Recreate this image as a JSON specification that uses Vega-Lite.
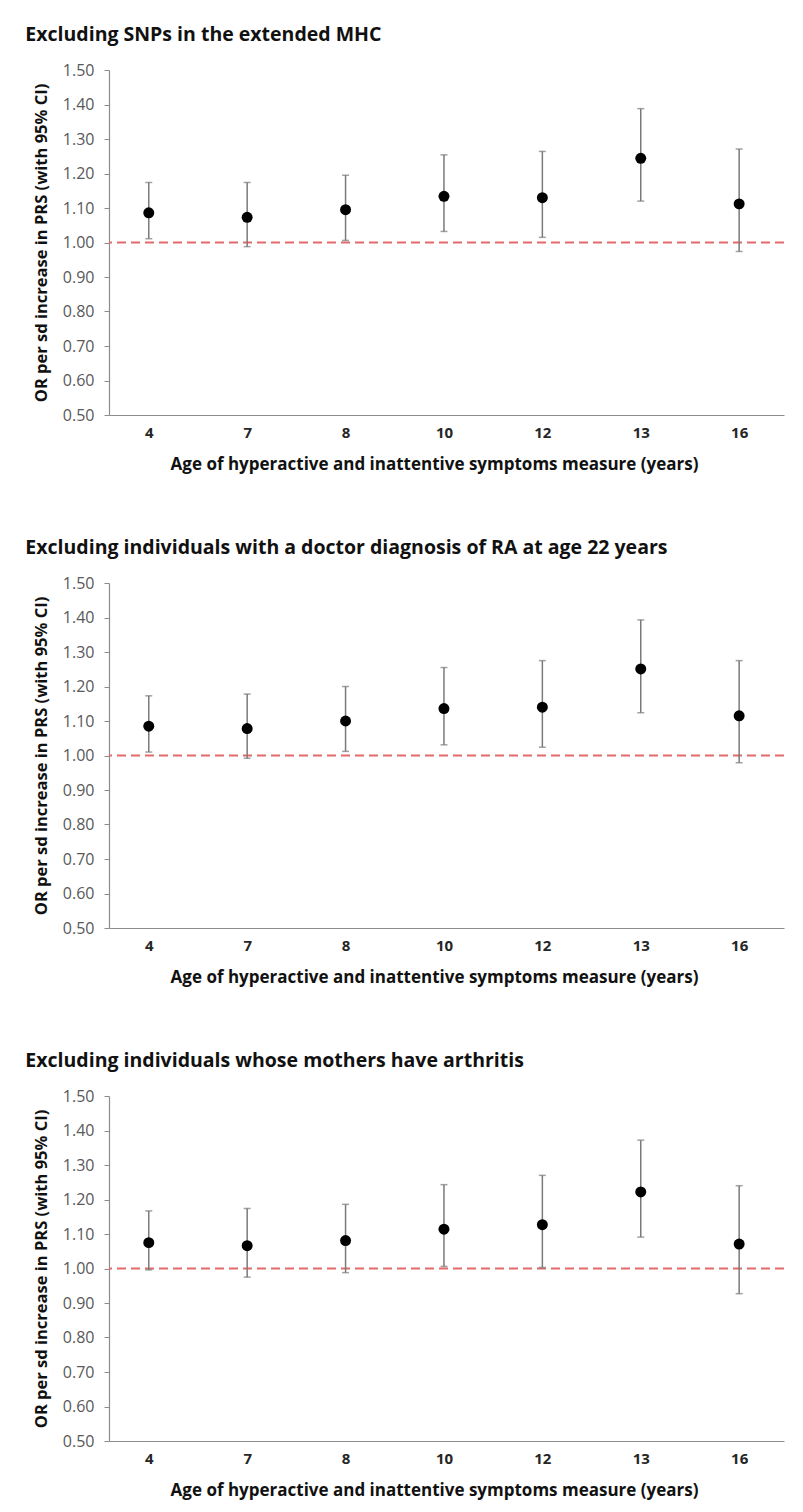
{
  "$schema": "https://vega.github.io/schema/vega-lite/v6.json",
  "background": "white",
  "padding": {"left": 25, "top": 24, "right": 16, "bottom": 4},
  "spacing": 65,
  "datasets": {
    "p1": [
      {"age": 4, "or": 1.086, "lo": 1.011, "hi": 1.174},
      {"age": 7, "or": 1.073, "lo": 0.988, "hi": 1.174},
      {"age": 8, "or": 1.095, "lo": 1.006, "hi": 1.195},
      {"age": 10, "or": 1.134, "lo": 1.032, "hi": 1.254},
      {"age": 12, "or": 1.130, "lo": 1.015, "hi": 1.264},
      {"age": 13, "or": 1.244, "lo": 1.120, "hi": 1.388},
      {"age": 16, "or": 1.112, "lo": 0.974, "hi": 1.271}
    ],
    "p2": [
      {"age": 4, "or": 1.085, "lo": 1.010, "hi": 1.173},
      {"age": 7, "or": 1.078, "lo": 0.992, "hi": 1.178},
      {"age": 8, "or": 1.100, "lo": 1.012, "hi": 1.200},
      {"age": 10, "or": 1.136, "lo": 1.031, "hi": 1.255},
      {"age": 12, "or": 1.140, "lo": 1.024, "hi": 1.275},
      {"age": 13, "or": 1.251, "lo": 1.124, "hi": 1.393},
      {"age": 16, "or": 1.115, "lo": 0.979, "hi": 1.275}
    ],
    "p3": [
      {"age": 4, "or": 1.075, "lo": 0.996, "hi": 1.167},
      {"age": 7, "or": 1.066, "lo": 0.975, "hi": 1.174},
      {"age": 8, "or": 1.081, "lo": 0.988, "hi": 1.186},
      {"age": 10, "or": 1.114, "lo": 1.006, "hi": 1.243},
      {"age": 12, "or": 1.127, "lo": 1.003, "hi": 1.270},
      {"age": 13, "or": 1.222, "lo": 1.091, "hi": 1.372},
      {"age": 16, "or": 1.071, "lo": 0.927, "hi": 1.240}
    ],
    "ref": [{"ref": 1.0}]
  },
  "config": {
    "view": {"stroke": null},
    "font": "Open Sans",
    "axis": {"grid": false, "domainColor": "#8c8c8c", "tickColor": "#8c8c8c", "domainWidth": 1.2},
    "axisX": {"ticks": false, "labelAngle": 0, "labelFont": "Open Sans", "labelFontSize": 15, "labelFontWeight": "bold", "labelColor": "#262626", "labelPadding": 10, "titleFont": "Open Sans", "titleFontSize": 17, "titleFontWeight": "bold", "titleColor": "#111111", "titlePadding": 16, "titleX": 325},
    "axisY": {"tickSize": 5, "tickCount": 12, "labelOverlap": false, "labelFont": "Open Sans", "labelFontSize": 16, "labelColor": "#595959", "labelPadding": 10, "titleFont": "Open Sans", "titleFontSize": 16.5, "titleFontWeight": "bold", "titleColor": "#111111", "titlePadding": 13},
    "title": {"anchor": "start", "frame": "bounds", "font": "Open Sans", "fontSize": 19.5, "fontWeight": "bold", "color": "#111111", "offset": 17, "dx": -8}
  },
  "vconcat": [
    {
      "title": "Excluding SNPs in the extended MHC",
      "width": 675, "height": 345,
      "data": {"name": "p1"},
      "layer": [
        {"data": {"name": "ref"}, "mark": {"type": "rule", "color": "#e36a6a", "strokeDash": [9, 5], "strokeWidth": 2},
         "encoding": {"y": {"field": "ref", "type": "quantitative", "title": "OR per sd increase in PRS (with 95% CI)", "scale": {"domain": [0.5, 1.5], "nice": false, "zero": false}, "axis": {"values": [0.5, 0.6, 0.7, 0.8, 0.9, 1.0, 1.1, 1.2, 1.3, 1.4, 1.5], "format": ".2f", "tickCount": 12}}}},
        {"mark": {"type": "errorbar", "ticks": {"size": 7, "color": "#7a7a7a"}, "color": "#7a7a7a", "thickness": 1.5},
         "encoding": {"x": {"field": "age", "type": "ordinal", "title": "Age of hyperactive and inattentive symptoms measure (years)", "scale": {"type": "point", "padding": 0.43, "align": 0.47}},
                      "y": {"field": "lo", "type": "quantitative", "title": "OR per sd increase in PRS (with 95% CI)"}, "y2": {"field": "hi"}}},
        {"mark": {"type": "circle", "size": 120, "color": "#000000", "opacity": 1},
         "encoding": {"x": {"field": "age", "type": "ordinal", "title": "Age of hyperactive and inattentive symptoms measure (years)"},
                      "y": {"field": "or", "type": "quantitative", "title": "OR per sd increase in PRS (with 95% CI)"}}}
      ]
    },
    {
      "title": "Excluding individuals with a doctor diagnosis of RA at age 22 years",
      "width": 675, "height": 345,
      "data": {"name": "p2"},
      "layer": [
        {"data": {"name": "ref"}, "mark": {"type": "rule", "color": "#e36a6a", "strokeDash": [9, 5], "strokeWidth": 2},
         "encoding": {"y": {"field": "ref", "type": "quantitative", "title": "OR per sd increase in PRS (with 95% CI)", "scale": {"domain": [0.5, 1.5], "nice": false, "zero": false}, "axis": {"values": [0.5, 0.6, 0.7, 0.8, 0.9, 1.0, 1.1, 1.2, 1.3, 1.4, 1.5], "format": ".2f", "tickCount": 12}}}},
        {"mark": {"type": "errorbar", "ticks": {"size": 7, "color": "#7a7a7a"}, "color": "#7a7a7a", "thickness": 1.5},
         "encoding": {"x": {"field": "age", "type": "ordinal", "title": "Age of hyperactive and inattentive symptoms measure (years)", "scale": {"type": "point", "padding": 0.43, "align": 0.47}},
                      "y": {"field": "lo", "type": "quantitative", "title": "OR per sd increase in PRS (with 95% CI)"}, "y2": {"field": "hi"}}},
        {"mark": {"type": "circle", "size": 120, "color": "#000000", "opacity": 1},
         "encoding": {"x": {"field": "age", "type": "ordinal", "title": "Age of hyperactive and inattentive symptoms measure (years)"},
                      "y": {"field": "or", "type": "quantitative", "title": "OR per sd increase in PRS (with 95% CI)"}}}
      ]
    },
    {
      "title": "Excluding individuals whose mothers have arthritis",
      "width": 675, "height": 345,
      "data": {"name": "p3"},
      "layer": [
        {"data": {"name": "ref"}, "mark": {"type": "rule", "color": "#e36a6a", "strokeDash": [9, 5], "strokeWidth": 2},
         "encoding": {"y": {"field": "ref", "type": "quantitative", "title": "OR per sd increase in PRS (with 95% CI)", "scale": {"domain": [0.5, 1.5], "nice": false, "zero": false}, "axis": {"values": [0.5, 0.6, 0.7, 0.8, 0.9, 1.0, 1.1, 1.2, 1.3, 1.4, 1.5], "format": ".2f", "tickCount": 12}}}},
        {"mark": {"type": "errorbar", "ticks": {"size": 7, "color": "#7a7a7a"}, "color": "#7a7a7a", "thickness": 1.5},
         "encoding": {"x": {"field": "age", "type": "ordinal", "title": "Age of hyperactive and inattentive symptoms measure (years)", "scale": {"type": "point", "padding": 0.43, "align": 0.47}},
                      "y": {"field": "lo", "type": "quantitative", "title": "OR per sd increase in PRS (with 95% CI)"}, "y2": {"field": "hi"}}},
        {"mark": {"type": "circle", "size": 120, "color": "#000000", "opacity": 1},
         "encoding": {"x": {"field": "age", "type": "ordinal", "title": "Age of hyperactive and inattentive symptoms measure (years)"},
                      "y": {"field": "or", "type": "quantitative", "title": "OR per sd increase in PRS (with 95% CI)"}}}
      ]
    }
  ]
}
